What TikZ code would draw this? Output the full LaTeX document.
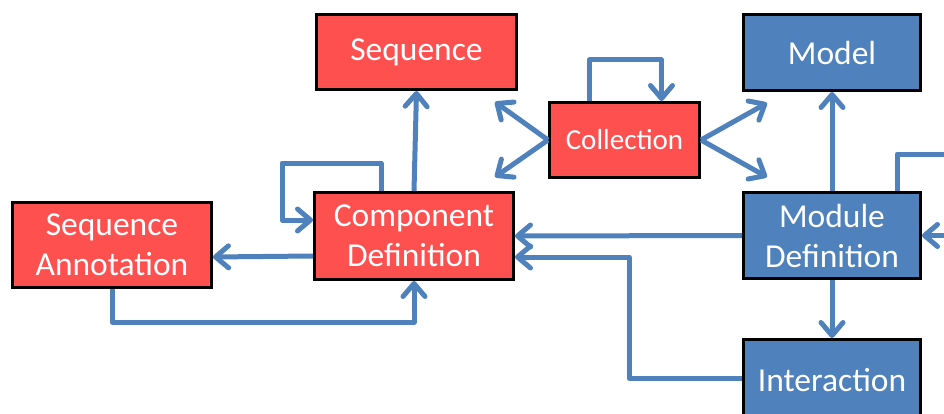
\documentclass[tikz,border=0pt]{standalone}
\usepackage{fontspec}
\setmainfont{Carlito}
\usepackage{xcolor}
\usepackage{tikz}
\usetikzlibrary{shapes,arrows.meta,positioning,calc}
\definecolor{sbolred}{RGB}{255,80,80}
\definecolor{sbolblue}{RGB}{79,129,189}

\begin{document}
\begin{tikzpicture}[x=1pt, y=1pt,
    block/.style={rectangle, draw=black, line width=3pt, inner sep=0pt, text=white, align=center, font=\fontsize{33.5}{40}\selectfont},
    redblock/.style={block, fill=sbolred},
    blueblock/.style={block, fill=sbolblue},
    link/.style={draw=sbolblue, line width=5pt, line join=round, -{Straight Barb[length=13pt,width=22pt,round]}}]

    \useasboundingbox (0,0) rectangle (944,413);

    \node[redblock, minimum width=200pt, minimum height=75pt] (seq) at (416.5,361) {Sequence};
    \node[redblock, minimum width=150pt, minimum height=75pt, font=\fontsize{29}{35}\selectfont] (coll) at (624.5,273) {Collection};
    \node[blueblock, minimum width=177pt, minimum height=76pt] (model) at (832,360.5) {Model};
    \node[redblock, minimum width=199pt, minimum height=87pt] (cd) at (414,177) {Component\\Definition};
    \node[redblock, minimum width=199pt, minimum height=85pt] (sa) at (112,168) {Sequence\\Annotation};
    \node[blueblock, minimum width=177pt, minimum height=86pt] (md) at (832,177.5) {Module\\Definition};
    \node[blueblock, minimum width=177pt, minimum height=81pt] (inter) at (832,33) {Interaction};

    % free ends of the collection arrows
    \coordinate (collul) at ([shift={(-23pt,-11pt)}]seq.south east);
    \coordinate (collll) at ([shift={(-20pt,14pt)}]cd.north east);
    \coordinate (collur) at ([shift={(25pt,-11pt)}]model.south west);
    \coordinate (colllr) at ([shift={(25pt,14pt)}]md.north west);

    \draw[link] (cd.north) -- (seq.south);
    \draw[link] ([xshift=-33pt]cd.north) -- ++(0pt,28pt) -| ([shift={(-31pt,16pt)}]cd.west) -- ([yshift=16pt]cd.west);
    \draw[link] ([yshift=-20pt]cd.west) -- ([yshift=-12pt]sa.east);
    \draw[link] (sa.south) -- ++(0pt,-33pt) -| (cd.south);
    \draw[link] ([xshift=-35pt]coll.north) -- ++(0pt,41pt) -| ([xshift=37pt]coll.north);
    \draw[link] (coll.west) -- (collul);
    \draw[link] (coll.west) -- (collll);
    \draw[link] (coll.east) -- (collur);
    \draw[link] (coll.east) -- (colllr);
    \draw[link] (md.north) -- (model.south);
    \draw[link] ([xshift=65pt]md.north) -- ++(0pt,37pt) -| ([xshift=40pt]md.east) -- (md.east);
    \draw[link] (md.west) -- (cd.east);
    \draw[link] (md.south) -- (inter.north);
    \draw[link] ([yshift=2pt]inter.west) -- ++(-113pt,0pt) |- ([yshift=-21pt]cd.east);
\end{tikzpicture}
\end{document}
